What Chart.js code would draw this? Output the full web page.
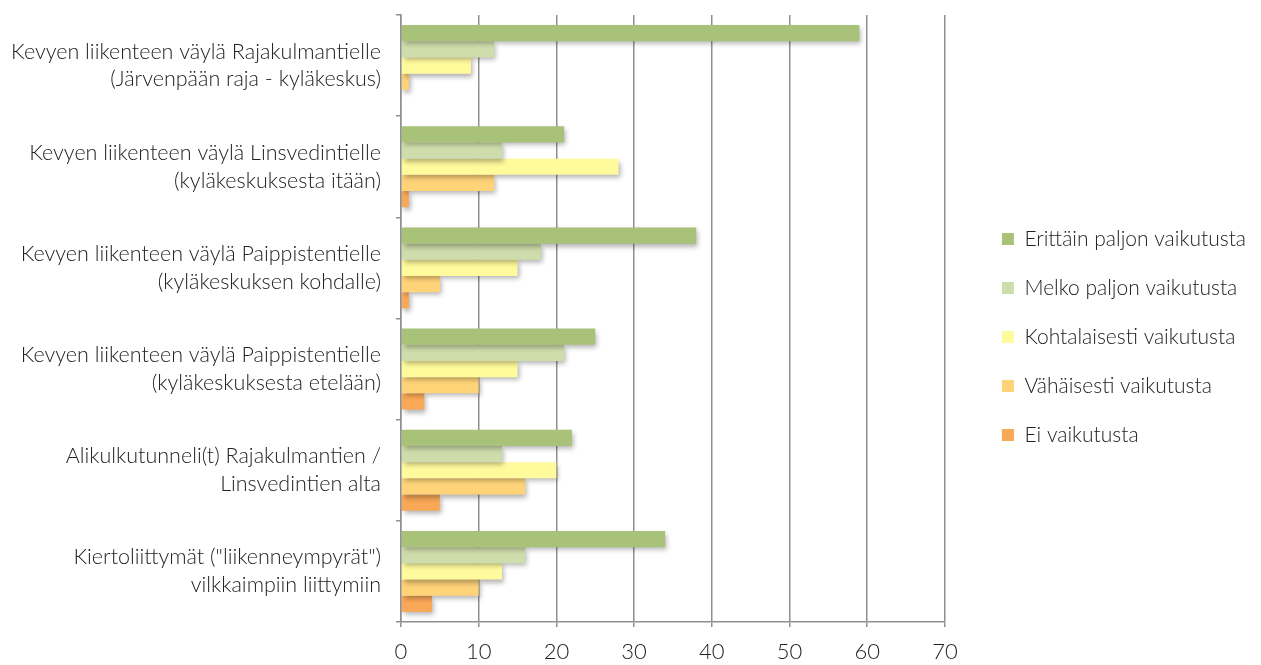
<!DOCTYPE html>
<html>
<head>
<meta charset="utf-8">
<script src="https://cdn.jsdelivr.net/npm/chart.js@4/dist/chart.umd.min.js"></script>
<style>
  html, body { margin: 0; padding: 0; background: #fff; }
  #wrap { width: 1261px; height: 665px; }
</style>
</head>
<body>
<div id="wrap"><canvas id="vaikutusChart"></canvas></div>
<script>
// Kohteet (kategoriat)
const kohteet = [
    ['Kevyen liikenteen väylä Rajakulmantielle', '(Järvenpään raja - kyläkeskus)'],
    ['Kevyen liikenteen väylä Linsvedintielle', '(kyläkeskuksesta itään)'],
    ['Kevyen liikenteen väylä Paippistentielle', '(kyläkeskuksen kohdalle)'],
    ['Kevyen liikenteen väylä Paippistentielle', '(kyläkeskuksesta etelään)'],
    ['Alikulkutunneli(t) Rajakulmantien /', 'Linsvedintien alta'],
    ['Kiertoliittymät ("liikenneympyrät")', 'vilkkaimpiin liittymiin']
];

// Sarjat
const sarjaNimet = [
    'Erittäin paljon vaikutusta',
    'Melko paljon vaikutusta',
    'Kohtalaisesti vaikutusta',
    'Vähäisesti vaikutusta',
    'Ei vaikutusta'
];
const erittainPaljon = [59, 21, 38, 25, 22, 34];
const melkoPaljon    = [12, 13, 18, 21, 13, 16];
const kohtalaisesti  = [9, 28, 15, 15, 20, 13];
const vahaisesti     = [1, 12, 5, 10, 16, 10];
const eiVaikutusta   = [0, 1, 1, 3, 5, 4];

const varit = ['#a9c279', '#cfdcab', '#fffb9c', '#ffd479', '#f9a857'];

const sarjat = [erittainPaljon, melkoPaljon, kohtalaisesti, vahaisesti, eiVaikutusta];

// Varjo palkeille
const varjoPlugin = {
    id: 'varjo',
    beforeDatasetsDraw(chart) {
        const ctx = chart.ctx;
        ctx.save();
        ctx.shadowColor = 'rgba(0,0,0,0.3)';
        ctx.shadowBlur = 5;
        ctx.shadowOffsetX = 2;
        ctx.shadowOffsetY = 3;
    },
    afterDatasetsDraw(chart) {
        chart.ctx.restore();
    }
};

// Siirtää selitettä oikealle (kuten alkuperäisessä)
const selitePlugin = {
    id: 'seliteSiirto',
    afterLayout(chart) {
        const l = chart.legend;
        l.left += 29; l.right += 29;
        l.top -= 3; l.bottom -= 3;
    }
};

const fontti = "'Lato', 'Open Sans', sans-serif";

const ctx = document.getElementById('vaikutusChart').getContext('2d');
new Chart(ctx, {
    type: 'bar',
    data: {
        labels: kohteet,
        datasets: sarjat.map((data, i) => ({
            label: sarjaNimet[i],
            data,
            backgroundColor: varit[i],
            borderWidth: 0,
            categoryPercentage: 0.8,
            barPercentage: 1.0
        }))
    },
    plugins: [varjoPlugin, selitePlugin],
    options: {
        indexAxis: 'y',
        responsive: true,
        maintainAspectRatio: false,
        animation: false,
        layout: { padding: { left: 8, right: 34, top: 15, bottom: 0 } },
        plugins: {
            title: { display: false },
            tooltip: { enabled: false },
            legend: {
                position: 'right',
                labels: {
                    boxWidth: 12,
                    boxHeight: 12,
                    padding: 28,
                    color: '#222',
                    font: { family: fontti, size: 21, weight: '300' }
                }
            }
        },
        scales: {
            x: {
                min: 0,
                max: 70,
                afterFit(scale) { scale.height = 43; },
                ticks: {
                    stepSize: 10,
                    color: '#222',
                    padding: 12,
                    font: { family: fontti, size: 22, weight: '300' }
                },
                grid: {
                    color: '#8f8f8f',
                    lineWidth: 1.5,
                    tickLength: 5
                },
                border: { color: '#8f8f8f', width: 1.5 }
            },
            y: {
                afterFit(scale) {
                    scale.width = 393;
                    scale.paddingTop = 0;
                    scale.paddingBottom = 0;
                },
                ticks: {
                    color: '#222',
                    padding: 15,
                    font: { family: fontti, size: 21.5, weight: '300', lineHeight: 1.3 }
                },
                grid: {
                    drawOnChartArea: false,
                    color: '#8f8f8f',
                    lineWidth: 1.5,
                    tickLength: 5
                },
                border: { color: '#8f8f8f', width: 1.5 }
            }
        }
    }
});
</script>
</body>
</html>
